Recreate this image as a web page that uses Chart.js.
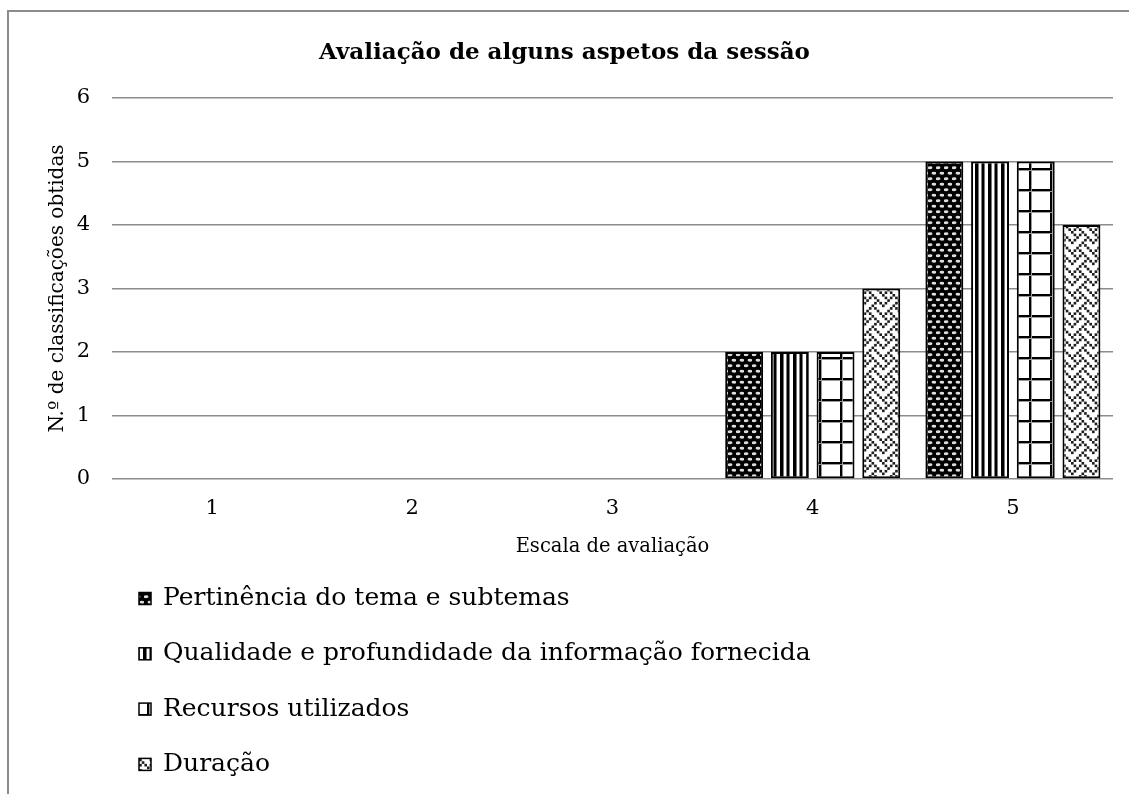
<!DOCTYPE html>
<html>
<head>
<meta charset="utf-8">
<script src="https://cdn.jsdelivr.net/npm/chart.js@4.4.0/dist/chart.umd.min.js"></script>
<style>
  html, body { margin: 0; padding: 0; background: #fff; }
  #wrap { position: relative; width: 1129px; height: 794px; overflow: hidden; }
  #frame { position: absolute; left: 7px; top: 10px; width: 1300px; height: 900px;
           border-left: 2px solid #8c8c8c; border-top: 2px solid #8c8c8c; }
  #chart { position: absolute; left: 0; top: 0; }
</style>
</head>
<body>
<div id="wrap">
  <div id="frame"></div>
  <canvas id="chart" width="1129" height="794"></canvas>
</div>
<script>
// Data
const categories = ['1', '2', '3', '4', '5'];
const seriesNames = [
  'Pertinência do tema e subtemas',
  'Qualidade e profundidade da informação fornecida',
  'Recursos utilizados',
  'Duração'
];
const pertinencia = [0, 0, 0, 2, 5];
const qualidade = [0, 0, 0, 2, 5];
const recursos = [0, 0, 0, 2, 5];
const duracao = [0, 0, 0, 3, 4];
const yTicks = [0, 1, 2, 3, 4, 5, 6];

const FONT = '"DejaVu Serif", "Liberation Serif", serif';

// Helper to build a repeating fill pattern from a small tile
function makePattern(w, h, draw) {
  const tile = document.createElement('canvas');
  tile.width = w;
  tile.height = h;
  const t = tile.getContext('2d');
  draw(t, w, h);
  return document.createElement('canvas').getContext('2d').createPattern(tile, 'repeat');
}

// black with light ovals
const dotsPattern = makePattern(8, 11, (t, w, h) => {
  t.fillStyle = '#000';
  t.fillRect(0, 0, w, h);
  t.fillStyle = '#dedede';
  [[2, 2.75], [6, 8.25]].forEach(([cx, cy]) => {
    t.beginPath();
    t.ellipse(cx, cy, 2.5, 1.4, 0, 0, Math.PI * 2);
    t.fill();
  });
});

// vertical stripes
const stripesPattern = makePattern(13, 4, (t, w, h) => {
  t.fillStyle = '#fff';
  t.fillRect(0, 0, w, h);
  t.fillStyle = '#000';
  t.fillRect(0, 0, 3, h);
  t.fillRect(6.5, 0, 2.5, h);
  t.fillStyle = '#777';
  t.fillRect(3, 0, 1, h);
  t.fillRect(9, 0, 1, h);
});

// large grid
const gridPattern = makePattern(21, 21, (t, w, h) => {
  t.fillStyle = '#fff';
  t.fillRect(0, 0, w, h);
  t.fillStyle = '#000';
  t.fillRect(0, 0, 2, h);
  t.fillRect(0, 0, w, 2);
  t.fillStyle = '#9a9a9a';
  t.fillRect(2, 0, 1, h);
  t.fillRect(0, 2, w, 1);
});

// weave
const weaveBits = [
  '10001000',
  '01010100',
  '00100010',
  '01000101',
  '10001000',
  '00010100',
  '00100010',
  '01010001'
];
const weavePattern = makePattern(21, 21, (t, w, h) => {
  t.fillStyle = '#fff';
  t.fillRect(0, 0, w, h);
  t.fillStyle = '#1e1e1e';
  const s = w / 8;
  weaveBits.forEach((row, r) => {
    for (let c = 0; c < 8; c++) {
      if (row[c] === '1') t.fillRect(c * s, r * s, s, s);
    }
  });
});

const patterns = [dotsPattern, stripesPattern, gridPattern, weavePattern];
const values = [pertinencia, qualidade, recursos, duracao];

// Legend drawn one item per row, like the original
const stackedLegend = {
  id: 'stackedLegend',
  afterDraw(chart) {
    const ctx = chart.ctx;
    const x0 = chart.chartArea.left + 27;
    const yStart = chart.scales.x.bottom + 36.5;
    const rowH = 55.3;
    const box = 12;
    ctx.save();
    ctx.font = '25px ' + FONT;
    ctx.textBaseline = 'middle';
    ctx.textAlign = 'left';
    chart.data.datasets.forEach((ds, i) => {
      const cy = yStart + i * rowH;
      ctx.fillStyle = ds.backgroundColor;
      ctx.fillRect(x0, cy - box / 2, box, box);
      ctx.strokeStyle = '#000';
      ctx.lineWidth = 1.5;
      ctx.strokeRect(x0, cy - box / 2, box, box);
      ctx.fillStyle = '#000';
      ctx.fillText(ds.label, x0 + box + 12, cy);
    });
    ctx.restore();
  }
};

const ctx = document.getElementById('chart').getContext('2d');
new Chart(ctx, {
  type: 'bar',
  data: {
    labels: categories,
    datasets: seriesNames.map((name, i) => ({
      label: name,
      data: values[i],
      backgroundColor: patterns[i],
      borderColor: '#000',
      borderWidth: 2,
      borderSkipped: false,
      categoryPercentage: 0.913,
      barPercentage: 0.83
    }))
  },
  options: {
    responsive: false,
    animation: false,
    layout: { padding: { left: 0, right: 0, top: 0, bottom: 232 } },
    plugins: {
      legend: { display: false },
      tooltip: { enabled: false },
      title: {
        display: true,
        text: 'Avaliação de alguns aspetos da sessão',
        color: '#000',
        font: { family: FONT, size: 23, weight: 'bold' },
        padding: { top: 39.7, bottom: 30.7 }
      }
    },
    scales: {
      x: {
        afterFit(scale) { scale.height = 83; },
        border: { display: false },
        grid: { display: false, drawTicks: false },
        ticks: { padding: 17.4, color: '#000', font: { family: FONT, size: 21 } },
        title: {
          display: true,
          text: 'Escala de avaliação',
          color: '#000',
          font: { family: FONT, size: 19.5 },
          padding: { top: 0, bottom: 3.3 }
        }
      },
      y: {
        min: 0,
        max: 6,
        afterFit(scale) { scale.width = 112; },
        afterBuildTicks(scale) { scale.ticks = yTicks.map(v => ({ value: v })); },
        border: { display: false },
        grid: { color: '#8c8c8c', lineWidth: 1.5, drawTicks: false },
        ticks: { padding: 22, color: '#000', font: { family: FONT, size: 21 } },
        title: {
          display: true,
          text: 'N.º de classificações obtidas',
          color: '#000',
          font: { family: FONT, size: 20 },
          padding: { top: 46, bottom: 0 }
        }
      },
      // empty strip on the right so the title stays centred on the page
      rightGap: {
        type: 'linear',
        position: 'right',
        afterFit(scale) { scale.width = 16; },
        border: { display: false },
        grid: { display: false, drawTicks: false },
        ticks: { display: false }
      }
    }
  },
  plugins: [stackedLegend]
});
</script>
</body>
</html>
